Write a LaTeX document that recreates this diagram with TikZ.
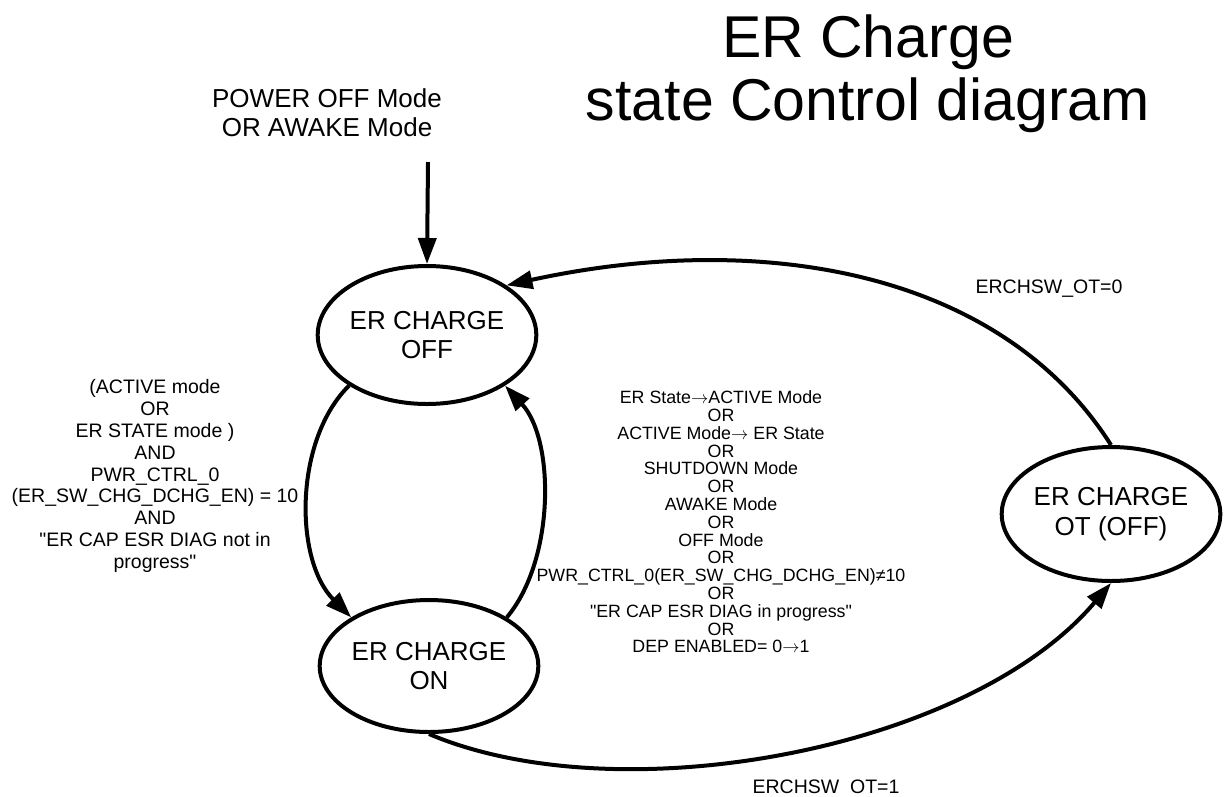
\documentclass[tikz,border=0pt]{standalone}
\usepackage{fontspec}
\setmainfont{Liberation Sans}[Ligatures=TeXOff]
\usetikzlibrary{arrows.meta,shapes.geometric}

% thin right arrow and straight double quote used in the condition texts
\newcommand{\rarr}{\ensuremath{\rightarrow}}
\newcommand{\dq}{\symbol{34}}

\tikzset{
  statenode/.style={ellipse, draw=black, line width=4pt, inner sep=0pt,
    align=center, font=\fontsize{26}{29.5}\selectfont},
  trans/.style={line width=4pt, -{Triangle[length=26pt,width=18pt]}},
  condtext/.style={align=center, inner sep=0pt},
}

\begin{document}
\begin{tikzpicture}[x=1pt,y=-1pt]
\useasboundingbox (0,0) rectangle (1228,796);
\fill[white] (0,0) rectangle (1228,796);

% title
\node[condtext, font=\fontsize{59}{63}\selectfont] (title) at (868,74)
  {ER Charge\\state Control diagram};

% states
\node[statenode, minimum width=218pt, minimum height=138pt] (off) at (427,335) {ER CHARGE\\OFF};
\node[statenode, minimum width=216pt, minimum height=132pt] (on)  at (429,666) {ER CHARGE\\ON};
\node[statenode, minimum width=214pt, minimum height=134pt] (ot)  at (1111,514) {ER CHARGE\\OT (OFF)};

% entry
\node[condtext, font=\fontsize{26}{29}\selectfont] (entry) at (327,113)
  {POWER OFF Mode\\OR AWAKE Mode};
\coordinate (entrystart) at (428,162);
\draw[trans] (entrystart) -- (off.north);

% transitions
\draw[trans] (off.213) .. controls (294,440) and (294,560) .. (on.148);
\draw[trans] (on.32) .. controls (555,560) and (555,440) .. (off.327);
\draw[trans] (ot.north) .. controls (1000,270) and (760,230) .. (off.32);
\draw[trans] (on.south) .. controls (620,815) and (970,750) .. (ot.south);

% conditions
\node[condtext, font=\fontsize{19.5}{21.9}\selectfont] (condon) at (155,476)
  {(ACTIVE mode\\OR\\ER STATE mode )\\AND\\PWR\_CTRL\_0\\(ER\_SW\_CHG\_DCHG\_EN) = 10\\AND\\\dq ER CAP ESR DIAG not in\\progress\dq};

\node[condtext, font=\fontsize{17.8}{17.8}\selectfont] (condoff) at (721,522)
  {ER State\rarr ACTIVE Mode\\OR\\ACTIVE Mode\rarr\ ER State\\OR\\SHUTDOWN Mode\\OR\\AWAKE Mode\\OR\\OFF Mode\\OR\\PWR\_CTRL\_0(ER\_SW\_CHG\_DCHG\_EN)≠10\\OR\\\dq ER CAP ESR DIAG in progress\dq\\OR\\DEP ENABLED= 0\rarr 1};

\node[condtext, font=\fontsize{19.5}{22}\selectfont] (condot0) at (1049,289) {ERCHSW\_OT=0};
\node[condtext, font=\fontsize{19.5}{22}\selectfont] (condot1) at (826,787) {ERCHSW\ \ OT=1};
\end{tikzpicture}
\end{document}
